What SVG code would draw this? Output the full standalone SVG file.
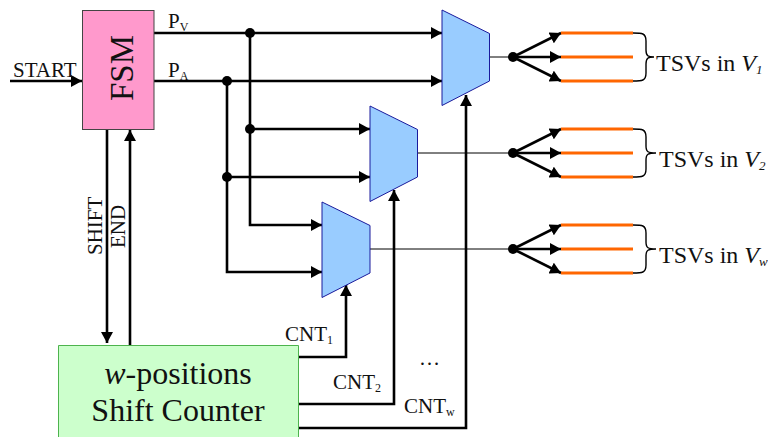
<svg xmlns="http://www.w3.org/2000/svg" width="768" height="437" viewBox="0 0 768 437">
<style>
text{font-family:"Liberation Serif","Times New Roman",serif;fill:#111}
.w{fill:none;stroke:#000;stroke-width:2.6}
.a{marker-end:url(#ah)}
.t{fill:none;stroke:#000;stroke-width:1;}
.mux{fill:#99ccff;stroke:#1a1a9c;stroke-width:1}
.tsv{stroke:#ff6600;stroke-width:3.2}
.b{fill:none;stroke:#000;stroke-width:1.4}
.l{font-size:21px}
.s{font-size:12px}
.tv{font-size:24px}
.v{font-size:13px}
.d{fill:#000}
</style>
<defs><marker id="ah" markerUnits="userSpaceOnUse" markerWidth="13" markerHeight="12" refX="11" refY="6" orient="auto"><path d="M0 0L11 6L0 12Z" fill="#000"/></marker></defs>
<g id="connectors">
<path class="w a" d="M10 81H82"/>
<path class="w" d="M153 33H250M153 81H227"/>
<path class="w a" d="M250 33H442"/>
<path class="w a" d="M227 81H442"/>
<path class="w a" d="M250 33V225H322"/>
<path class="w a" d="M227 81V272H322"/>
<path class="w a" d="M250 129H370"/>
<path class="w a" d="M227 177H370"/>
<path class="w a" d="M107 129V343"/>
<path class="w a" d="M130 345V130"/>
<path class="w a" d="M297 357H346V285"/>
<path class="w a" d="M297 404H394V190"/>
<path class="w a" d="M297 428H466V95"/>
<path class="t" d="M489 57H513M417 153H513M370 249H513"/>
<path class="w a" d="M513 57L561 33"/><path class="w a" d="M513 57L561 57"/><path class="w a" d="M513 57L561 81"/>
<path class="w a" d="M513 153L561 129"/><path class="w a" d="M513 153L561 153"/><path class="w a" d="M513 153L561 177"/>
<path class="w a" d="M513 249L561 225"/><path class="w a" d="M513 249L561 249"/><path class="w a" d="M513 249L561 273"/>
<circle class="d" cx="250" cy="33" r="5"/><circle class="d" cx="227" cy="81" r="5"/><circle class="d" cx="250" cy="129" r="5"/><circle class="d" cx="227" cy="177" r="5"/>
<circle class="d" cx="513" cy="57" r="5"/><circle class="d" cx="513" cy="153" r="5"/><circle class="d" cx="513" cy="249" r="5"/>
</g>
<g id="fsm"><rect x="82.500" y="10.500" width="71.500" height="119" fill="#ff99cc" stroke="#444" stroke-width="1"/><text transform="translate(133 101) rotate(-90)" font-size="33">FSM</text></g>
<g id="counter"><path d="M58.500 437V345.500H298.500V437" fill="#ccffcc" stroke="#4db34d" stroke-width="1"/><text x="178" y="384" font-size="32" text-anchor="middle"><tspan font-style="italic">w</tspan>-positions</text><text x="178" y="421" font-size="32" text-anchor="middle">Shift Counter</text></g>
<g id="mux1"><path class="mux" d="M442 10L489.500 33.500V81L442 105.500Z"/></g>
<g id="mux2"><path class="mux" d="M370 106L417.500 129.500V177L370 201.500Z"/></g>
<g id="mux3"><path class="mux" d="M322 202L370 225.500V273L322 297.500Z"/></g>
<g id="tsv1"><path class="tsv" d="M561 33H633M561 57H633M561 81H633"/><path class="b" d="M633 33C642 33 646 33 646 41V50C646 56 648 57 654 57C648 57 646 58 646 64V73C646 81 642 81 633 81"/><text x="656" y="71" class="tv">TSVs in <tspan font-style="italic">V<tspan class="v" dy="3">1</tspan></tspan></text></g>
<g id="tsv2"><path class="tsv" d="M561 129H633M561 153H633M561 177H633"/><path class="b" d="M633 129C642 129 646 129 646 137V146C646 152 648 153 656 153C648 153 646 154 646 160V169C646 177 642 177 633 177"/><text x="659" y="167" class="tv">TSVs in <tspan font-style="italic">V<tspan class="v" dy="3">2</tspan></tspan></text></g>
<g id="tsvw"><path class="tsv" d="M561 225H633M561 249H633M561 273H633"/><path class="b" d="M633 225C642 225 646 225 646 233V242C646 248 648 249 656 249C648 249 646 250 646 256V265C646 273 642 273 633 273"/><text x="659" y="263" class="tv">TSVs in <tspan font-style="italic">V<tspan class="v" dy="3">w</tspan></tspan></text></g>
<g id="labels">
<text x="13" y="77" class="l">START</text>
<text x="168" y="28" class="l">P<tspan class="s" dy="3">V</tspan></text>
<text x="168" y="77" class="l">P<tspan class="s" dy="3">A</tspan></text>
<text transform="translate(102 255) rotate(-90)" class="l">SHIFT</text>
<text transform="translate(125 248) rotate(-90)" class="l">END</text>
<text x="285" y="341" class="l">CNT<tspan class="s" dy="3">1</tspan></text>
<text x="333" y="389" class="l">CNT<tspan class="s" dy="3">2</tspan></text>
<text x="404" y="413" class="l">CNT<tspan class="s" dy="3">w</tspan></text>
<text x="419" y="365" class="l">…</text>
</g>
</svg>
